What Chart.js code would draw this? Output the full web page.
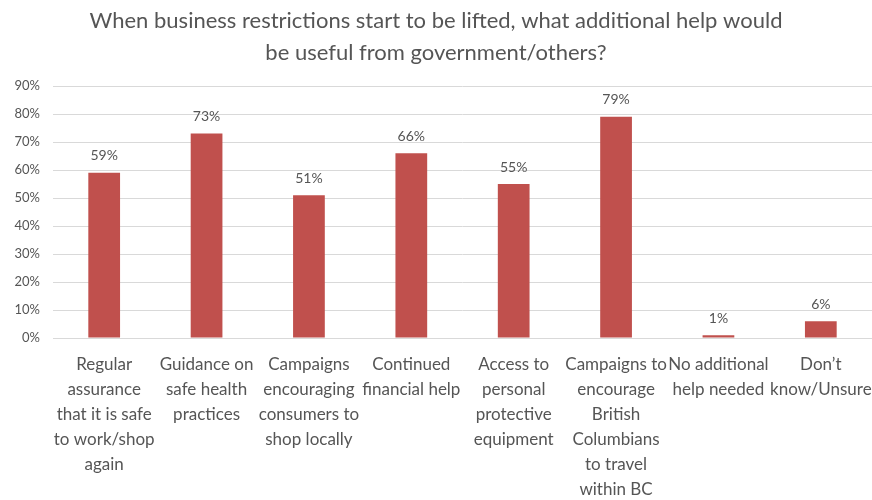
<!DOCTYPE html>
<html>
<head>
<meta charset="utf-8">
<script src="https://cdn.jsdelivr.net/npm/chart.js@4"></script>
<style>
  html, body { margin: 0; padding: 0; background: #ffffff; }
  #wrap { width: 872px; height: 500px; }
</style>
</head>
<body>
<div id="wrap"><canvas id="helpChart" width="872" height="500"></canvas></div>
<script>
// categories (pre-wrapped, one entry per line)
const categories = [
    ["Regular", "assurance", "that it is safe", "to work/shop", "again"],
    ["Guidance on", "safe health", "practices"],
    ["Campaigns", "encouraging", "consumers to", "shop locally"],
    ["Continued", "financial help"],
    ["Access to", "personal", "protective", "equipment"],
    ["Campaigns to", "encourage", "British", "Columbians", "to travel", "within BC"],
    ["No additional", "help needed"],
    ["Don\u2019t", "know/Unsure"]
];
const percents = [59, 73, 51, 66, 55, 79, 1, 6];
const yTicks = [0, 10, 20, 30, 40, 50, 60, 70, 80, 90];

const textGrey = "#555555";
const fontFamily = "Lato, 'Open Sans', sans-serif";

// writes the percentage above each bar
const valueLabels = {
    id: "valueLabels",
    afterDatasetsDraw(chart) {
        const ctx = chart.ctx;
        const meta = chart.getDatasetMeta(0);
        ctx.save();
        ctx.font = "14px " + fontFamily;
        ctx.fillStyle = textGrey;
        ctx.textAlign = "center";
        ctx.textBaseline = "middle";
        meta.data.forEach((bar, i) => {
            ctx.fillText(percents[i] + "%", bar.x, bar.y - 17);
        });
        ctx.restore();
    }
};

const ctx = document.getElementById("helpChart").getContext("2d");
const helpChart = new Chart(ctx, {
    type: "bar",
    data: {
        labels: categories,
        datasets: [{
            data: percents,
            backgroundColor: "#c0504d",
            categoryPercentage: 1,
            barPercentage: 0.31
        }]
    },
    options: {
        responsive: false,
        animation: false,
        layout: { padding: 0 },
        plugins: {
            legend: { display: false },
            tooltip: { enabled: false },
            title: {
                display: true,
                text: ["When business restrictions start to be lifted, what additional help would",
                       "be useful from government/others?"],
                color: textGrey,
                font: { family: fontFamily, size: 22, weight: "normal", lineHeight: 32 / 22 },
                padding: { top: 5, bottom: 17 }
            }
        },
        scales: {
            x: {
                grid: { display: false, drawTicks: false },
                border: { color: "#d9d9d9" },
                ticks: {
                    color: textGrey,
                    maxRotation: 0,
                    autoSkip: false,
                    padding: 14,
                    font: { family: fontFamily, size: 17, lineHeight: 25 / 17 }
                },
                afterFit(scale) {
                    scale.height = 162;
                    // let the plot run right up to the canvas edge
                    scale.paddingLeft = 0;
                    scale.paddingRight = 0;
                }
            },
            y: {
                min: 0,
                max: 90,
                grid: { color: "#d9d9d9", drawTicks: false },
                border: { display: false },
                afterBuildTicks(scale) {
                    scale.ticks = yTicks.map(v => ({ value: v }));
                },
                ticks: {
                    color: textGrey,
                    padding: 13,
                    font: { family: fontFamily, size: 13 },
                    callback: v => v + "%"
                },
                afterFit(scale) { scale.width = 53; }
            }
        }
    },
    plugins: [valueLabels]
});
</script>
</body>
</html>
